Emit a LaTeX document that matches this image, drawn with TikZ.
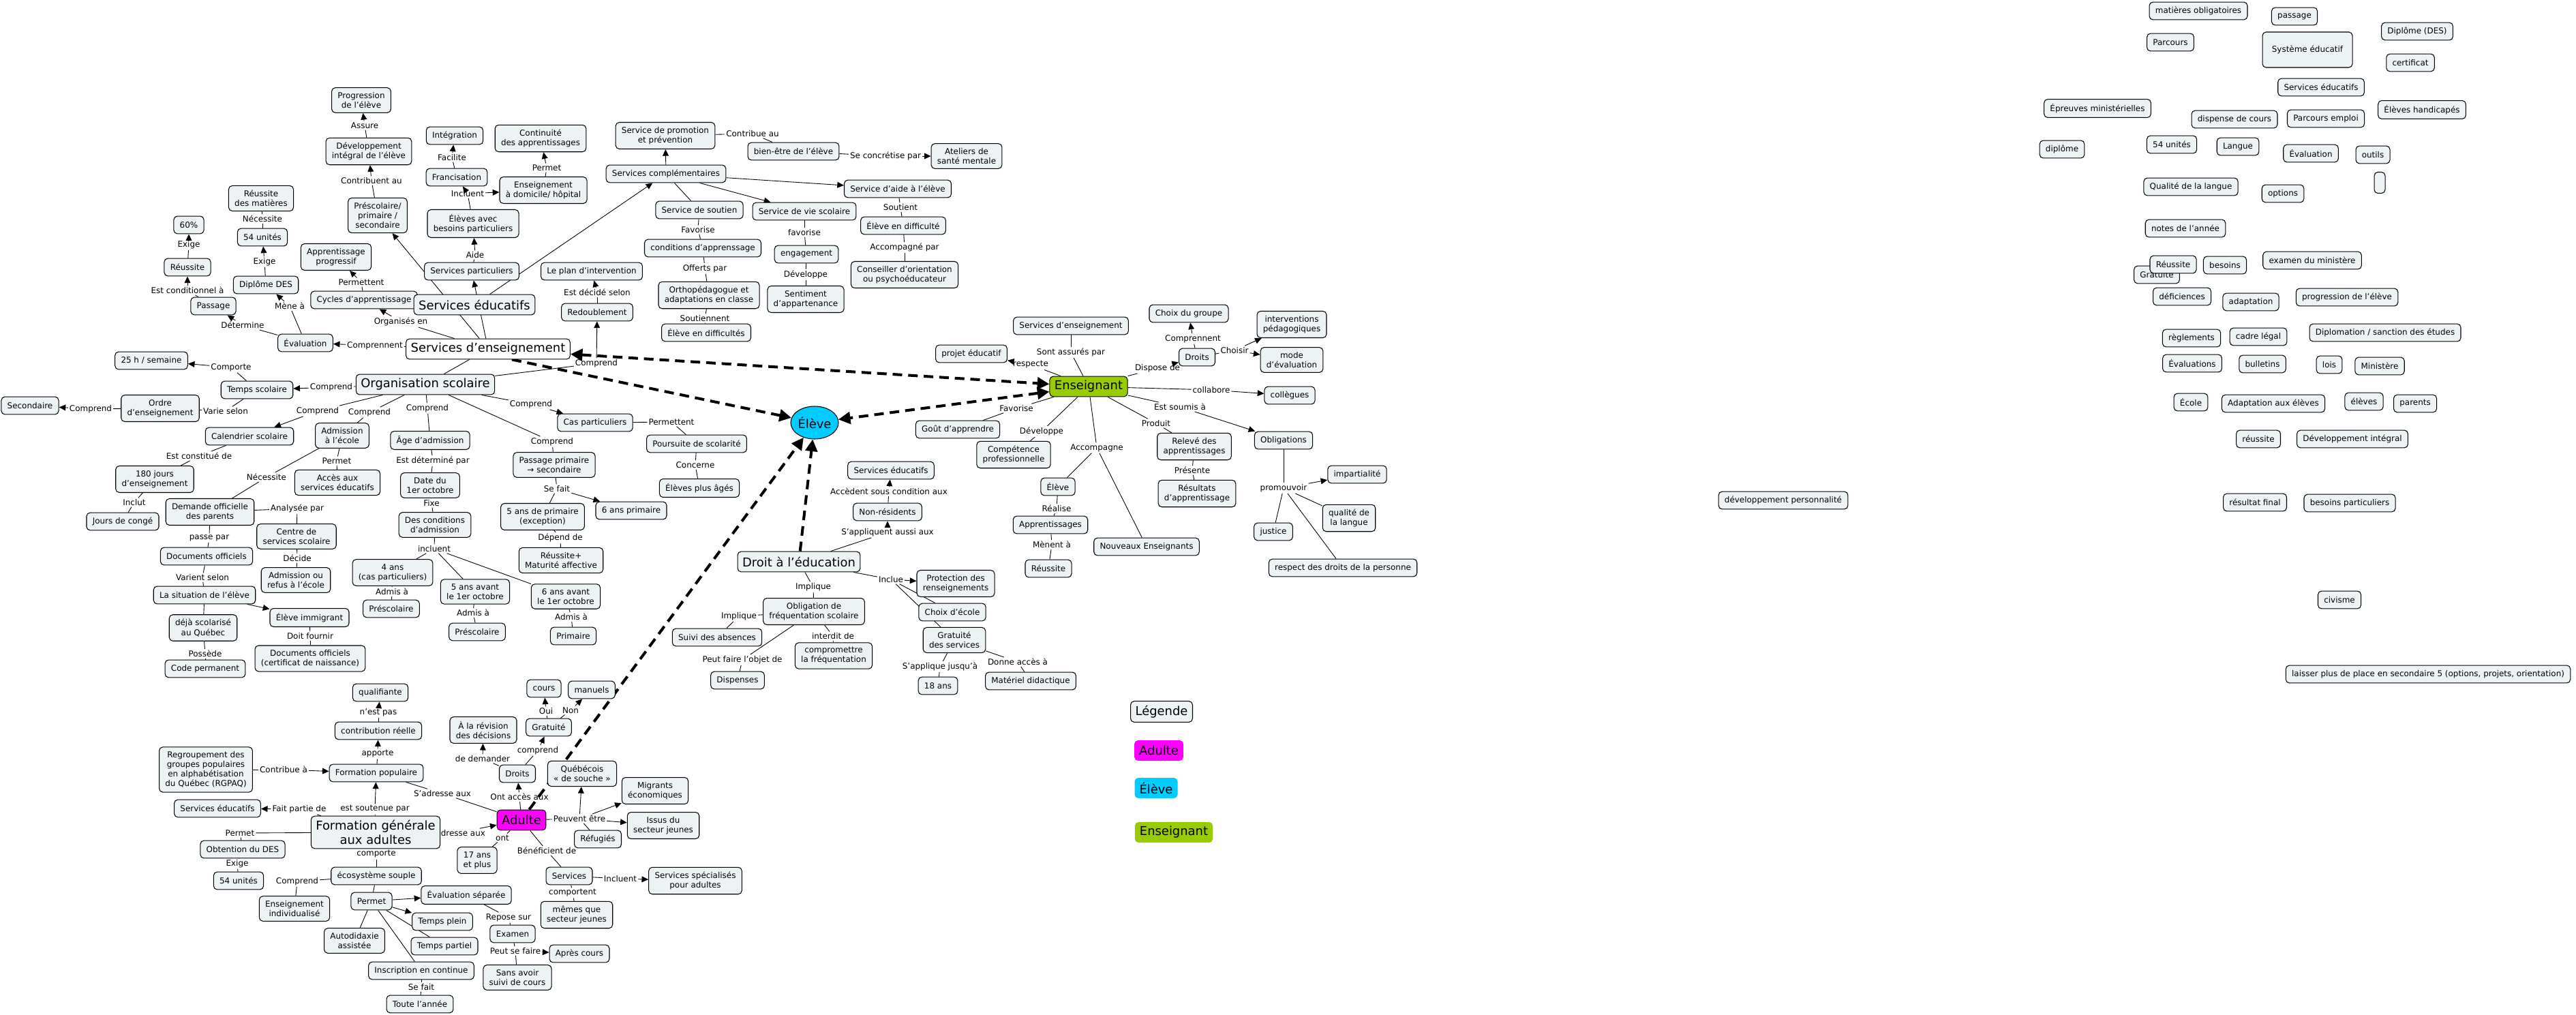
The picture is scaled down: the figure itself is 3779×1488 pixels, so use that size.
\documentclass[tikz,border=0pt]{standalone}
\usepackage{fontspec}
\setmainfont{DejaVu Sans}
\usetikzlibrary{arrows.meta,shapes.geometric,calc}
\pgfdeclarelayer{back}
\pgfdeclarelayer{edges}
\pgfsetlayers{back,edges,main}
\definecolor{nfill}{RGB}{237,243,245}
\definecolor{ecyan}{RGB}{0,204,255}
\definecolor{egreen}{RGB}{153,204,0}
\definecolor{amag}{RGB}{255,0,255}
\newcommand\fsm{\fontsize{6.8}{8}\selectfont}
\newcommand\fbg{\fontsize{10.2}{12}\selectfont}
\tikzset{
  cpt/.style={draw=black, line width=0.6pt, rounded corners=3pt, fill=nfill, font=\fsm, align=center, inner xsep=5pt, inner ysep=3.8pt, minimum height=14.7pt},
  big/.style={cpt, font=\fbg, inner xsep=4pt, inner ysep=3.4pt, minimum height=17pt},
  lab/.style={font=\fsm, inner sep=1pt, align=center},
  ln/.style={draw=black, line width=0.5pt},
  ar/.style={ln, -{Triangle[length=5.5pt,width=5pt]}},
  dsh/.style={line width=2.3pt, dash pattern=on 8pt off 5pt},
  legbox/.style={rounded corners=3pt, font=\fbg, inner xsep=4pt, inner ysep=3.6pt, minimum height=17pt},
}
\newcommand\cmA[3]{\draw[ln] (#1) -- (#2); \draw[ar] (#2) -- (#3);}
\newcommand\cmN[3]{\draw[ln] (#1) -- (#2); \draw[ln] (#2) -- (#3);}
\begin{document}
\begin{tikzpicture}[x=0.2mm, y=-0.2mm]
\useasboundingbox (0,0) rectangle (3779,1488);
\begin{pgfonlayer}{back}
\fill[white] (0,0) rectangle (3779,1488);
\end{pgfonlayer}

% ---------- linking phrases ----------
\node[lab] (l1) at (535,184) {Assure};
\node[lab] (l2) at (545,265) {Contribuent au};
\node[lab] (l3) at (663,231) {Facilite};
\node[lab] (l4) at (802,246) {Permet};
\node[lab] (l5) at (686,284) {Incluent};
\node[lab] (l6) at (697,374) {Aide};
\node[lab] (l7) at (530,414) {Permettent};
\node[lab] (l8) at (588,472) {Organisés en};
\node[lab] (l9) at (550,507) {Comprennent};
\node[lab] (l10) at (425,449) {Mène à};
\node[lab] (l11) at (356,477) {Détermine};
\node[lab] (l12) at (275,426) {Est conditionnel à};
\node[lab] (l13) at (277,359) {Exige};
\node[lab] (l14) at (388,384) {Exige};
\node[lab] (l15) at (385,321) {Nécessite};
\node[lab] (l16) at (875,533) {Comprend};
\node[lab] (l17) at (876,429) {Est décidé selon};
\node[lab] (l18) at (339,539) {Comporte};
\node[lab] (l19) at (486,568) {Comprend};
\node[lab] (l20) at (133,600) {Comprend};
\node[lab] (l21) at (331,603) {Varie selon};
\node[lab] (l22) at (466,603) {Comprend};
\node[lab] (l23) at (542,605) {Comprend};
\node[lab] (l24) at (627,599) {Comprend};
\node[lab] (l25) at (779,593) {Comprend};
\node[lab] (l26) at (810,648) {Comprend};
\node[lab] (l27) at (1104,196) {Contribue au};
\node[lab] (l28) at (1299,229) {Se concrétise par};
\node[lab] (l29) at (1024,337) {Favorise};
\node[lab] (l30) at (1034,394) {Offerts par};
\node[lab] (l31) at (1034,467) {Soutiennent};
\node[lab] (l32) at (1180,341) {favorise};
\node[lab] (l33) at (1182,403) {Développe};
\node[lab] (l34) at (1321,304) {Soutient};
\node[lab] (l35) at (1327,363) {Accompagné par};
\node[lab] (l36) at (1571,517) {Sont assurés par};
\node[lab] (l37) at (1512,535) {respecte};
\node[lab] (l38) at (1698,540) {Dispose de};
\node[lab] (l39) at (1750,497) {Comprennent};
\node[lab] (l40) at (1811,514) {Choisir};
\node[lab] (l41) at (1777,572) {collabore};
\node[lab] (l42) at (1731,597) {Est soumis à};
\node[lab] (l43) at (1696,621) {Produit};
\node[lab] (l44) at (1749,690) {Présente};
\node[lab] (l45) at (1491,599) {Favorise};
\node[lab] (l46) at (1528,633) {Développe};
\node[lab] (l47) at (1609,657) {Accompagne};
\node[lab] (l48) at (1550,746) {Réalise};
\node[lab] (l49) at (1543,799) {Mènent à};
\node[lab] (l50) at (1883,716) {promouvoir};
\node[lab] (l51) at (985,619) {Permettent};
\node[lab] (l52) at (1020,682) {Concerne};
\node[lab] (l53) at (817,717) {Se fait};
\node[lab] (l54) at (822,789) {Dépend de};
\node[lab] (l55) at (1304,721) {Accèdent sous condition aux};
\node[lab] (l56) at (1302,781) {S'appliquent aussi aux};
\node[lab] (l57) at (1193,861) {Implique};
\node[lab] (l58) at (1307,850) {Inclue};
\node[lab] (l59) at (1084,904) {Implique};
\node[lab] (l60) at (1222,933) {interdit de};
\node[lab] (l61) at (1089,968) {Peut faire l'objet de};
\node[lab] (l62) at (1379,978) {S'applique jusqu'à};
\node[lab] (l63) at (1493,971) {Donne accès à};
\node[lab] (l64) at (635,676) {Est déterminé par};
\node[lab] (l65) at (633,738) {Fixe};
\node[lab] (l66) at (637,805) {incluent};
\node[lab] (l67) at (575,868) {Admis à};
\node[lab] (l68) at (694,899) {Admis à};
\node[lab] (l69) at (838,905) {Admis à};
\node[lab] (l70) at (292,669) {Est constitué de};
\node[lab] (l71) at (197,737) {Inclut};
\node[lab] (l72) at (494,676) {Permet};
\node[lab] (l73) at (391,700) {Nécessite};
\node[lab] (l74) at (436,746) {Analysée par};
\node[lab] (l75) at (307,789) {passe par};
\node[lab] (l76) at (436,819) {Décide};
\node[lab] (l77) at (297,847) {Varient selon};
\node[lab] (l78) at (301,959) {Possède};
\node[lab] (l79) at (455,933) {Doit fournir};
\node[lab] (l80) at (555,1045) {n'est pas};
\node[lab] (l81) at (554,1106) {apporte};
\node[lab] (l82) at (416,1129) {Contribue à};
\node[lab] (l83) at (439,1187) {Fait partie de};
\node[lab] (l84) at (550,1187) {est soutenue par};
\node[lab] (l85) at (670,1222) {S'adresse aux};
\node[lab] (l86) at (649,1164) {S'adresse aux};
\node[lab] (l87) at (762,1169) {Ont accès aux};
\node[lab] (l88) at (708,1113) {de demander};
\node[lab] (l89) at (789,1101) {comprend};
\node[lab] (l90) at (801,1043) {Oui};
\node[lab] (l91) at (837,1042) {Non};
\node[lab] (l92) at (737,1229) {ont};
\node[lab] (l93) at (802,1248) {Bénéficient de};
\node[lab] (l94) at (850,1201) {Peuvent être};
\node[lab] (l95) at (910,1289) {Incluent};
\node[lab] (l96) at (840,1310) {comportent};
\node[lab] (l97) at (352,1222) {Permet};
\node[lab] (l98) at (348,1267) {Exige};
\node[lab] (l99) at (552,1253) {comporte};
\node[lab] (l100) at (436,1293) {Comprend};
\node[lab] (l101) at (746,1346) {Repose sur};
\node[lab] (l102) at (756,1395) {Peut se faire};
\node[lab] (l103) at (618,1448) {Se fait};

% ---------- concepts: left / top ----------
\node[cpt] (prog) at (530,147) {Progression\\de l'élève};
\node[cpt] (devint) at (541,222) {Développement\\intégral de l'élève};
\node[cpt] (presc) at (554,316) {Préscolaire/\\primaire /\\secondaire};
\node[cpt] (integ) at (667,199) {Intégration};
\node[cpt] (francis) at (670,260) {Francisation};
\node[cpt] (contin) at (793,203) {Continuité\\des apprentissages};
\node[cpt] (ensdom) at (797,279) {Enseignement\\à domicile/ hôpital};
\node[cpt] (elevbp) at (694,328) {Élèves avec\\besoins particuliers};
\node[cpt] (servpart) at (692,398) {Services particuliers};
\node[cpt] (reumat) at (383,291) {Réussite\\des matières};
\node[cpt] (pct) at (277,330) {60\%};
\node[cpt] (uA) at (385,348) {54 unités};
\node[cpt] (reusA) at (275,392) {Réussite};
\node[cpt] (apprprog) at (493,377) {Apprentissage\\progressif};
\node[cpt] (dipdes) at (390,418) {Diplôme DES};
\node[cpt] (passage) at (313,449) {Passage};
\node[cpt] (cycles) at (534,440) {Cycles d'apprentissage};
\node[big] (serveduc) at (696,447) {Services éducatifs};
\node[cpt] (planint) at (868,398) {Le plan d'intervention};
\node[cpt] (redoubl) at (876,458) {Redoublement};
\node[cpt] (eval) at (448,503) {Évaluation};
\node[big, fill=white] (servens) at (716,512) {Services d’enseignement};
\node[cpt] (hsem) at (222,529) {25 h / semaine};
\node[cpt] (tempsc) at (377,572) {Temps scolaire};
\node[big] (orgsc) at (624,564) {Organisation scolaire};
\node[cpt] (second) at (44,595) {Secondaire};
\node[cpt] (ordre) at (235,599) {Ordre\\d'enseignement};

% ---------- services complementaires ----------
\node[cpt] (servprom) at (976,199) {Service de promotion\\et prévention};
\node[cpt] (bienetre) at (1164,222) {bien-être de l'élève};
\node[cpt] (ateliers) at (1418,229) {Ateliers de\\santé mentale};
\node[cpt] (servcomp) at (977,255) {Services complémentaires};
\node[cpt] (servaide) at (1317,277) {Service d'aide à l'élève};
\node[cpt] (servsout) at (1026,308) {Service de soutien};
\node[cpt] (servvie) at (1180,310) {Service de vie scolaire};
\node[cpt] (elevdiff) at (1325,331) {Élève en difficulté};
\node[cpt] (condapp) at (1031,364) {conditions d'apprenssage};
\node[cpt] (engag) at (1183,373) {engagement};
\node[cpt] (conseil) at (1327,403) {Conseiller d'orientation\\ou psychoéducateur};
\node[cpt] (ortho) at (1040,433) {Orthopédagogue et\\adaptations en classe};
\node[cpt] (sentim) at (1182,439) {Sentiment\\d'appartenance};
\node[cpt] (elevdiffs) at (1036,488) {Élève en difficultés};
\node[cpt] (projed) at (1425,519) {projet éducatif};

% ---------- enseignant ----------
\node[cpt] (servensB) at (1571,478) {Services d'enseignement};
\node[cpt] (choixgr) at (1744,460) {Choix du groupe};
\node[cpt] (interv) at (1895,476) {interventions\\pédagogiques};
\node[cpt] (droitsE) at (1756,524) {Droits};
\node[cpt] (mode) at (1895,528) {mode\\d'évaluation};
\node[big, fill=egreen] (ens) at (1597,567) {Enseignant};
\node[cpt] (collegues) at (1892,580) {collègues};
\node[cpt] (gout) at (1405,630) {Goût d'apprendre};
\node[cpt] (compet) at (1487,667) {Compétence\\professionnelle};
\node[cpt] (releve) at (1752,655) {Relevé des\\apprentissages};
\node[cpt] (oblig) at (1883,646) {Obligations};
\node[cpt] (eleveB) at (1552,714) {Élève};
\node[cpt] (resultats) at (1756,724) {Résultats\\d'apprentissage};
\node[cpt] (impart) at (1991,696) {impartialité};
\node[cpt] (apprent) at (1541,770) {Apprentissages};
\node[cpt] (qualite) at (1979,760) {qualité de\\la langue};
\node[cpt] (justice) at (1868,780) {justice};
\node[cpt] (nouveaux) at (1682,802) {Nouveaux Enseignants};
\node[cpt] (reussB) at (1538,834) {Réussite};
\node[cpt] (respect) at (1970,833) {respect des droits de la personne};

% ---------- middle ----------
\node[draw=black, line width=0.6pt, ellipse, fill=ecyan, font=\fbg, minimum width=14mm, minimum height=9.6mm, inner sep=0pt] (eleve) at (1195,620) {Élève};
\node[cpt] (caspart) at (873,620) {Cas particuliers};
\node[cpt] (poursuite) at (1022,651) {Poursuite de scolarité};
\node[cpt] (passprim) at (813,682) {Passage primaire\\→ secondaire};
\node[cpt] (serveducB) at (1307,690) {Services éducatifs};
\node[cpt] (elevesag) at (1026,716) {Élèves plus âgés};
\node[cpt] (cinqprim) at (796,758) {5 ans de primaire\\(exception)};
\node[cpt] (sixprim) at (926,749) {6 ans primaire};
\node[cpt] (nonres) at (1302,751) {Non-résidents};
\node[cpt] (reussmat) at (823,822) {Réussite+\\Maturité affective};
\node[big] (droited) at (1172,824) {Droit à l'éducation};
\node[cpt] (sixav) at (830,875) {6 ans avant\\le 1er octobre};
\node[cpt] (protect) at (1402,856) {Protection des\\renseignements};
\node[cpt] (obligfreq) at (1194,897) {Obligation de\\fréquentation scolaire};
\node[cpt] (choixecole) at (1397,898) {Choix d'école};
\node[cpt] (primaire) at (841,933) {Primaire};
\node[cpt] (suivi) at (1052,935) {Suivi des absences};
\node[cpt] (gratserv) at (1400,939) {Gratuité\\des services};
\node[cpt] (comprom) at (1223,962) {compromettre\\la fréquentation};
\node[cpt] (dispenses) at (1082,998) {Dispenses};
\node[cpt] (dixhuit) at (1376,1006) {18 ans};
\node[cpt] (materiel) at (1512,999) {Matériel didactique};
\node[cpt] (cours) at (798,1010) {cours};
\node[cpt] (manuels) at (868,1012) {manuels};
\node[cpt] (gratuite) at (805,1067) {Gratuité};

% ---------- admission ----------
\node[cpt] (calend) at (366,640) {Calendrier scolaire};
\node[cpt] (admission) at (502,639) {Admission\\à l'école};
\node[cpt] (agead) at (631,646) {Âge d'admission};
\node[cpt] (cent80) at (227,703) {180 jours\\d'enseignement};
\node[cpt] (acces) at (495,708) {Accès aux\\services éducatifs};
\node[cpt] (date1) at (631,712) {Date du\\1er octobre};
\node[cpt] (demande) at (308,751) {Demande officielle\\des parents};
\node[cpt] (conges) at (180,765) {Jours de congé};
\node[cpt] (centre) at (435,787) {Centre de\\services scolaire};
\node[cpt] (condadm) at (638,770) {Des conditions\\d'admission};
\node[cpt] (docoff) at (303,816) {Documents officiels};
\node[cpt] (quatre) at (576,840) {4 ans\\(cas particuliers)};
\node[cpt] (admouref) at (434,851) {Admission ou\\refus à l'école};
\node[cpt] (cinqav) at (697,868) {5 ans avant\\le 1er octobre};
\node[cpt] (situation) at (300,873) {La situation de l'élève};
\node[cpt] (prescA) at (574,893) {Préscolaire};
\node[cpt] (immig) at (454,906) {Élève immigrant};
\node[cpt] (deja) at (298,921) {déjà scolarisé\\au Québec};
\node[cpt] (prescB) at (700,927) {Préscolaire};
\node[cpt] (docoffB) at (455,966) {Documents officiels\\(certificat de naissance)};
\node[cpt] (codeperm) at (301,981) {Code permanent};
\node[cpt] (qualif) at (558,1016) {qualifiante};
\node[cpt] (contrib) at (555,1072) {contribution réelle};
\node[cpt] (revision) at (709,1071) {À la révision\\des décisions};

% ---------- adultes ----------
\node[cpt] (rgpaq) at (302,1129) {Regroupement des\\groupes populaires\\en alphabétisation\\du Québec (RGPAQ)};
\node[cpt] (formpop) at (552,1134) {Formation populaire};
\node[cpt] (droitsA) at (759,1135) {Droits};
\node[cpt] (quebecois) at (854,1135) {Québécois\\« de souche »};
\node[cpt] (migrants) at (961,1160) {Migrants\\économiques};
\node[cpt] (serveducC) at (319,1186) {Services éducatifs};
\node[big] (fga) at (551,1221) {Formation générale\\aux adultes};
\node[big, fill=amag] (adulte) at (765,1203) {Adulte};
\node[cpt] (issus) at (973,1211) {Issus du\\secteur jeunes};
\node[cpt] (refugies) at (877,1231) {Réfugiés};
\node[cpt] (obtdes) at (356,1246) {Obtention du DES};
\node[cpt] (dixsept) at (700,1262) {17 ans\\et plus};
\node[cpt] (uB) at (350,1292) {54 unités};
\node[cpt] (ecosys) at (552,1285) {écosystème souple};
\node[cpt] (services) at (835,1285) {Services};
\node[cpt] (servspec) at (1020,1292) {Services spécialisés\\pour adultes};
\node[cpt] (evalsep) at (684,1313) {Évaluation séparée};
\node[cpt] (permetN) at (545,1322) {Permet};
\node[cpt] (ensindiv) at (432,1333) {Enseignement\\individualisé};
\node[cpt] (memes) at (846,1342) {mêmes que\\secteur jeunes};
\node[cpt] (tplein) at (649,1352) {Temps plein};
\node[cpt] (autodid) at (520,1380) {Autodidaxie\\assistée};
\node[cpt] (examen) at (752,1370) {Examen};
\node[cpt] (tpartiel) at (652,1388) {Temps partiel};
\node[cpt] (apres) at (850,1399) {Après cours};
\node[cpt] (inscr) at (618,1424) {Inscription en continue};
\node[cpt] (sansavoir) at (759,1434) {Sans avoir\\suivi de cours};
\node[cpt] (toute) at (616,1473) {Toute l'année};

% ---------- legend ----------
\node[legbox, draw=black, line width=0.6pt, fill=nfill] (legende) at (1704,1044) {Légende};
\node[legbox, fill=amag] (legA) at (1700,1101) {Adulte};
\node[legbox, fill=ecyan] (legE) at (1696,1156) {Élève};
\node[legbox, fill=egreen] (legN) at (1722,1221) {Enseignant};

% ---------- right cluster ----------
\node[cpt] (matob) at (3225,16) {matières obligatoires};
\node[cpt] (passageR) at (3366,24) {passage};
\node[cpt] (parcours) at (3184,62) {Parcours};
\node[cpt, minimum width=26.4mm, minimum height=10.4mm] (systeme) at (3385,73) {Système éducatif};
\node[cpt] (diplomeR) at (3546,46) {Diplôme (DES)};
\node[cpt] (certif) at (3536,92) {certificat};
\node[cpt] (serveducR) at (3405,128) {Services éducatifs};
\node[cpt] (epreuves) at (3077,159) {Épreuves ministérielles};
\node[cpt] (dispense) at (3278,175) {dispense de cours};
\node[cpt] (parcemp) at (3412,174) {Parcours emploi};
\node[cpt] (handicap) at (3553,161) {Élèves handicapés};
\node[cpt] (diplomeS) at (3025,219) {diplôme};
\node[cpt] (uC) at (3186,212) {54 unités};
\node[cpt] (langue) at (3283,215) {Langue};
\node[cpt] (evalR) at (3390,225) {Évaluation};
\node[cpt] (outils) at (3481,227) {outils};
\node[cpt, minimum width=3.2mm, minimum height=6.2mm, inner sep=0pt] (emptyN) at (3491,268) {};
\node[cpt] (qualiteR) at (3214,274) {Qualité de la langue};
\node[cpt] (options) at (3349,284) {options};
\node[cpt] (notes) at (3206,335) {notes de l’année};
\node[cpt] (gratR) at (3164,403) {Gratuité};
\node[cpt] (reussR) at (3188,388) {Réussite};
\node[cpt] (besoins) at (3264,389) {besoins};
\node[cpt] (examenR) at (3392,382) {examen du ministère};
\node[cpt] (defic) at (3201,435) {déficiences};
\node[cpt] (adapt) at (3302,443) {adaptation};
\node[cpt] (progR) at (3443,436) {progression de l’élève};
\node[cpt] (regl) at (3215,496) {règlements};
\node[cpt] (cadre) at (3313,494) {cadre légal};
\node[cpt] (diplomation) at (3499,488) {Diplomation / sanction des études};
\node[cpt] (evals) at (3216,533) {Évaluations};
\node[cpt] (bulletins) at (3319,534) {bulletins};
\node[cpt] (lois) at (3417,535) {lois};
\node[cpt] (ministere) at (3491,537) {Ministère};
\node[cpt] (ecole) at (3214,590) {École};
\node[cpt] (adaptel) at (3335,592) {Adaptation aux élèves};
\node[cpt] (elevesR) at (3468,589) {élèves};
\node[cpt] (parents) at (3543,592) {parents};
\node[cpt] (reussiteR) at (3313,644) {réussite};
\node[cpt] (devintR) at (3451,644) {Développement intégral};
\node[cpt] (devperso) at (2616,734) {développement personnalité};
\node[cpt] (resfinal) at (3308,737) {résultat final};
\node[cpt] (besoinsp) at (3447,738) {besoins particuliers};
\node[cpt] (civisme) at (3432,880) {civisme};
\node[cpt] (laisser) at (3562,989) {laisser plus de place en secondaire 5 (options, projets, orientation)};

% ---------- connectors ----------
\begin{pgfonlayer}{edges}
\cmA{devint}{l1}{prog}
\cmA{presc}{l2}{devint}
\cmA{francis}{l3}{integ}
\cmA{ensdom}{l4}{contin}
\draw[ln] (elevbp) -- (l5); \draw[ar] (l5) -- (francis); \draw[ar] (l5) -- (ensdom);
\cmA{servpart}{l6}{elevbp}
\draw[ar] (servens) -- (presc);
\draw[ar] (servens) -- (servpart);
\draw[ar] (serveduc) -- (servcomp);
\cmA{cycles}{l7}{apprprog}
\cmA{servens}{l8}{cycles}
\cmA{servens}{l9}{eval}
\cmA{eval}{l10}{dipdes}
\cmA{eval}{l11}{passage}
\cmA{passage}{l12}{reusA}
\cmA{reusA}{l13}{pct}
\cmA{dipdes}{l14}{uA}
\cmN{uA}{l15}{reumat}
\draw[ln] (orgsc) -- (servens);
\cmA{orgsc}{l16}{redoubl}
\cmA{redoubl}{l17}{planint}
\cmA{tempsc}{l18}{hsem}
\cmA{orgsc}{l19}{tempsc}
\cmA{ordre}{l20}{second}
\cmN{tempsc}{l21}{ordre}
\cmA{orgsc}{l22}{calend}
\cmN{orgsc}{l23}{admission}
\cmN{orgsc}{l24}{agead}
\cmA{orgsc}{l25}{caspart}
\cmN{orgsc}{l26}{passprim}
\draw[ar] (servcomp) -- (servprom);
\cmN{servprom}{l27}{bienetre}
\cmA{bienetre}{l28}{ateliers}
\draw[ar] (servcomp) -- (servaide);
\draw[ar] (servcomp) -- (servvie);
\draw[ln] (servcomp) -- (servsout);
\cmN{servsout}{l29}{condapp}
\cmN{condapp}{l30}{ortho}
\cmN{ortho}{l31}{elevdiffs}
\cmN{servvie}{l32}{engag}
\cmN{engag}{l33}{sentim}
\cmN{servaide}{l34}{elevdiff}
\cmN{elevdiff}{l35}{conseil}
\cmN{servensB}{l36}{ens}
\cmA{ens}{l37}{projed}
\cmA{ens}{l38}{droitsE}
\cmA{droitsE}{l39}{choixgr}
\draw[ln] (droitsE) -- (l40); \draw[ar] (l40) -- (interv); \draw[ar] (l40) -- (mode);
\cmA{ens}{l41}{collegues}
\cmA{ens}{l42}{oblig}
\cmN{ens}{l43}{releve}
\cmN{releve}{l44}{resultats}
\cmN{ens}{l45}{gout}
\cmN{ens}{l46}{compet}
\draw[ln] (ens) -- (l47); \draw[ln] (l47) -- (eleveB); \draw[ln] (l47) -- (nouveaux);
\cmN{eleveB}{l48}{apprent}
\cmN{apprent}{l49}{reussB}
\draw[ln] (oblig) -- (l50); \draw[ar] (l50) -- (impart); \draw[ln] (l50) -- (qualite); \draw[ln] (l50) -- (justice); \draw[ln] (l50) -- (respect);
\cmN{caspart}{l51}{poursuite}
\cmN{poursuite}{l52}{elevesag}
\draw[ln] (passprim) -- (l53); \draw[ln] (l53) -- (cinqprim); \draw[ar] (l53) -- (sixprim);
\cmN{cinqprim}{l54}{reussmat}
\cmA{nonres}{l55}{serveducB}
\cmA{droited}{l56}{nonres}
\cmN{droited}{l57}{obligfreq}
\draw[ln] (droited) -- (l58); \draw[ar] (l58) -- (protect); \draw[ln] (l58) -- (choixecole); \draw[ln] (l58) -- (gratserv);
\cmN{obligfreq}{l59}{suivi}
\cmN{obligfreq}{l60}{comprom}
\cmN{obligfreq}{l61}{dispenses}
\cmN{gratserv}{l62}{dixhuit}
\cmN{gratserv}{l63}{materiel}
\cmN{agead}{l64}{date1}
\cmN{date1}{l65}{condadm}
\draw[ln] (condadm) -- (l66); \draw[ln] (l66) -- (quatre); \draw[ln] (l66) -- (cinqav); \draw[ln] (l66) -- (sixav);
\cmN{quatre}{l67}{prescA}
\cmN{cinqav}{l68}{prescB}
\cmN{sixav}{l69}{primaire}
\cmN{calend}{l70}{cent80}
\cmN{cent80}{l71}{conges}
\cmN{admission}{l72}{acces}
\cmN{admission}{l73}{demande}
\cmN{demande}{l74}{centre}
\cmN{demande}{l75}{docoff}
\cmN{centre}{l76}{admouref}
\cmN{docoff}{l77}{situation}
\draw[ar] (situation) -- (immig);
\draw[ln] (situation) -- (deja);
\cmN{deja}{l78}{codeperm}
\cmN{immig}{l79}{docoffB}
\cmA{contrib}{l80}{qualif}
\cmA{formpop}{l81}{contrib}
\cmA{rgpaq}{l82}{formpop}
\cmA{fga}{l83}{serveducC}
\cmA{fga}{l84}{formpop}
\cmA{fga}{l85}{adulte}
\cmN{formpop}{l86}{adulte}
\cmA{adulte}{l87}{droitsA}
\cmA{droitsA}{l88}{revision}
\cmA{droitsA}{l89}{gratuite}
\cmA{gratuite}{l90}{cours}
\cmA{gratuite}{l91}{manuels}
\cmN{adulte}{l92}{dixsept}
\cmN{adulte}{l93}{services}
\draw[ln] (adulte) -- (l94); \draw[ar] (l94) -- (quebecois); \draw[ar] (l94) -- (migrants); \draw[ar] (l94) -- (issus); \draw[ln] (l94) -- (refugies);
\cmA{services}{l95}{servspec}
\cmN{services}{l96}{memes}
\cmN{fga}{l97}{obtdes}
\cmN{obtdes}{l98}{uB}
\cmN{fga}{l99}{ecosys}
\cmN{ecosys}{l100}{ensindiv}
\draw[ln] (ecosys) -- (permetN);
\draw[ar] (permetN) -- (evalsep);
\draw[ar] (permetN) -- (tplein);
\draw[ln] (permetN) -- (tpartiel);
\draw[ln] (permetN) -- (autodid);
\draw[ln] (permetN) -- (inscr);
\cmN{evalsep}{l101}{examen}
\draw[ln] (examen) -- (l102); \draw[ar] (l102) -- (apres); \draw[ln] (l102) -- (sansavoir);
\cmN{inscr}{l103}{toute}
% dashed main relations
\draw[dsh, {Triangle[length=10pt,width=10pt]}-{Triangle[length=10pt,width=10pt]}] (servens) -- (ens);
\draw[dsh, -{Triangle[length=10pt,width=10pt]}] ($(servens.south)+(35,0)$) -- (eleve);
\draw[dsh, {Triangle[length=10pt,width=10pt]}-{Triangle[length=10pt,width=10pt]}] (ens) -- (eleve);
\draw[dsh, -{Triangle[length=10pt,width=10pt]}] (droited) -- (eleve);
\draw[dsh, -{Triangle[length=10pt,width=10pt]}] (adulte) -- (eleve);
\end{pgfonlayer}
\end{tikzpicture}
\end{document}
